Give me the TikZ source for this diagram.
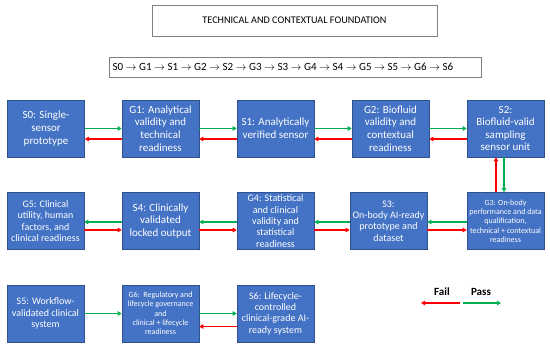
\documentclass[tikz,border=0pt]{standalone}
\usepackage{fontspec}
\setmainfont{Carlito}
\usetikzlibrary{arrows.meta}
\definecolor{stagec}{HTML}{4472C4}
\definecolor{stageedge}{HTML}{2F528F}
\definecolor{passc}{HTML}{00B050}
\definecolor{failc}{HTML}{FF0000}
\definecolor{framec}{HTML}{7F7F7F}

\begin{document}
\begin{tikzpicture}[x=1pt, y=-1pt,
  stage/.style={draw=stageedge, fill=stagec, text=white, line width=0.6pt,
    minimum width=77pt, minimum height=57pt, inner sep=1pt, align=center,
    font=\fontsize{11}{12.6}\selectfont},
  small/.style={font=\fontsize{8}{9.3}\selectfont},
  mid/.style={font=\fontsize{10}{11.4}\selectfont},
  frame/.style={draw=framec, line width=0.7pt, align=center},
  pass/.style={passc, line width=1.4pt, -{Triangle[length=4pt, width=4.5pt]}},
  fail/.style={failc, line width=1.4pt, -{Triangle[length=4pt, width=4.5pt]}}]
  \useasboundingbox (0,0) rectangle (550,348);

  % headers
  \node[frame, minimum width=285pt, minimum height=31pt, font=\fontsize{10.2}{12}\selectfont]
    (title) at (294.5,20.5) {TECHNICAL AND CONTEXTUAL FOUNDATION};
  \node[frame, minimum width=372pt, minimum height=20pt, anchor=west,
    font=\fontsize{11}{13}\selectfont, inner xsep=1.5pt] (seq) at (109,67)
    {S0 $\to$ G1 $\to$ S1 $\to$ G2 $\to$ S2 $\to$ G3 $\to$ S3 $\to$ G4 $\to$ S4 $\to$ G5 $\to$ S5 $\to$ G6 $\to$ S6\hspace{25pt}};

  % row 1
  \node[stage] (s0) at (46,128.5) {S0: Single-\\sensor\\prototype};
  \node[stage] (g1) at (160.5,128.5) {G1: Analytical\\validity and\\technical\\readiness};
  \node[stage] (s1) at (275.5,128.5) {S1: Analytically\\verified sensor};
  \node[stage] (g2) at (390.5,128.5) {G2: Biofluid\\validity and\\contextual\\readiness};
  \node[stage] (s2) at (505.5,128.5) {S2:\\Biofluid-valid\\sampling\\sensor unit};

  % row 2
  \node[stage, mid] (g5) at (45.5,221) {G5: Clinical\\utility, human\\factors, and\\clinical readiness};
  \node[stage] (s4) at (160.5,221) {S4: Clinically\\validated\\locked output};
  \node[stage, mid] (g4) at (275.5,221) {G4: Statistical\\and clinical\\validity and\\statistical\\readiness};
  \node[stage, mid] (s3) at (388.5,221) {S3:\\On-body AI-ready\\prototype and\\dataset};
  \node[stage, small] (g3) at (505.5,221) {G3: On-body\\performance and data\\qualification,\\technical + contextual\\readiness};

  % row 3
  \node[stage, mid] (s5) at (45.5,313.5) {S5: Workflow-\\validated clinical\\system};
  \node[stage, small] (g6) at (160.5,313.5) {G6:\ \ Regulatory and\\lifecycle governance\\and\\clinical + lifecycle\\readiness};
  \node[stage, mid] (s6) at (275.5,313.5) {S6: Lifecycle-\\controlled\\clinical-grade AI-\\ready system};

  % pass / fail
  \foreach \a/\b in {s0/g1, g1/s1, s1/g2, g2/s2, g6/s6, s5/g6} {
    \draw[pass] (\a.east) -- (\b.west);
  }
  \foreach \a/\b in {g1/s0, s1/g1, g2/s1, s2/g2} {
    \draw[fail] ([yshift=-10.5pt]\a.west) -- ([yshift=-10.5pt]\b.east);
  }
  \draw[fail] ([yshift=-13pt]s6.west) -- ([yshift=-13pt]g6.east);
  \foreach \a/\b in {g3/s3, s3/g4, g4/s4, s4/g5} {
    \draw[pass] ([yshift=-1pt]\a.west) -- ([yshift=-1pt]\b.east);
  }
  \foreach \a/\b in {g5/s4, s4/g4, g4/s3, s3/g3} {
    \draw[fail] ([yshift=-9pt]\a.east) -- ([yshift=-9pt]\b.west);
  }
  \draw[pass] ([xshift=-1.5pt]s2.south) -- ([xshift=-1.5pt]g3.north);
  \draw[fail] ([xshift=-9.5pt]g3.north) -- ([xshift=-9.5pt]s2.south);

  % legend
  \coordinate (legfail) at (460,303);
  \coordinate (legfailend) at (421,303);
  \coordinate (legpass) at (463,303);
  \coordinate (legpassend) at (501,303);
  \draw[fail] (legfail) -- (legfailend);
  \draw[pass] (legpass) -- (legpassend);
  \node[font=\fontsize{11}{12}\selectfont\bfseries] (failtxt) at (442,292) {Fail};
  \node[font=\fontsize{11}{12}\selectfont\bfseries] (passtxt) at (481,292) {Pass};
\end{tikzpicture}
\end{document}
